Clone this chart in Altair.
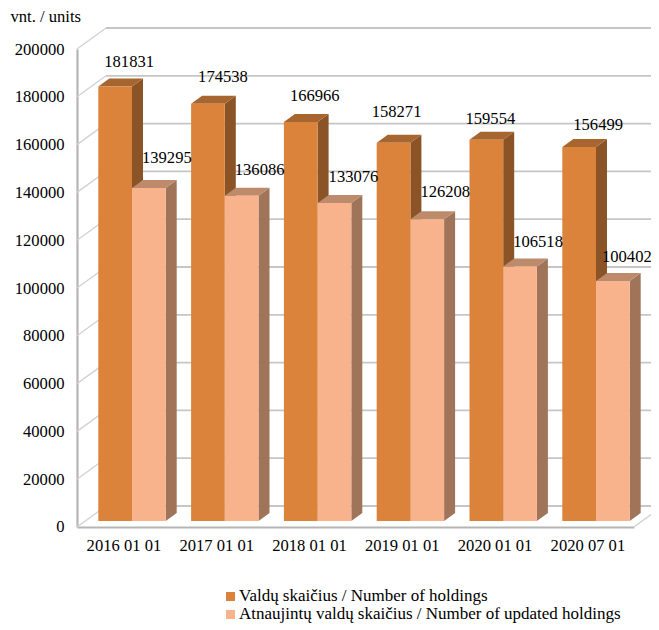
import altair as alt
import pandas as pd

categories = ["2016 01 01", "2017 01 01", "2018 01 01", "2019 01 01", "2020 01 01", "2020 07 01"]
holdings = [181831, 174538, 166966, 158271, 159554, 156499]
updated = [139295, 136086, 133076, 126208, 106518, 100402]
series_names = ["Valdų skaičius / Number of holdings", "Atnaujintų valdų skaičius / Number of updated holdings"]
grid_values = list(range(0, 200001, 20000))

FONT = "Liberation Serif"
FS = 16.6
W, H = 556.8, 478
PXX = W / 6
PXY = H / 200000
ux = lambda p: p / PXX
uy = lambda p: p / PXY

# layout
BAR_LEFT, BAR_W = ux(21.3), ux(33.7)
DX, DY = ux(11), uy(8)
BASE = uy(6)
WALL_X, WALL_Y = ux(29), uy(21)
RIGHT_END = ux(590)

front_cols = ["#DB833B", "#F9B38C"]
side_cols = ["#8A5427", "#9F7459"]
top_cols = ["#A7652F", "#BD8A6C"]

# per-label nudges from the default position above the bar (px)
nudge_x = [[14, 15, 14, 3, 4, 19], [18, 18, 19, 18, 18, 14]]
nudge_y = [[24, 27, 26, 31, 21, 22], [30, 26, 26, 27, 24, 24]]

x_scale = alt.Scale(domain=[0, 6], nice=False, zero=False)
y_scale = alt.Scale(domain=[0, 200000], nice=False, zero=False)

labels_js = "[" + ",".join(f"'{c}'" for c in categories) + "]"
x_axis = alt.Axis(
    title=None, values=[0.5 + i for i in range(6)], labelExpr=f"{labels_js}[floor(datum.value)]",
    grid=False, ticks=False, domainColor="#B5B5B5", domainWidth=2.2, labelFont=FONT, labelFontSize=FS,
    labelColor="#000000", labelPadding=11, labelAngle=0, labelOverlap=False, labelFlush=False)
y_axis = alt.Axis(
    title="vnt. / units", titleFont=FONT, titleFontSize=FS, titleFontWeight="normal", titleColor="#000000",
    titleAngle=0, titleAlign="left", titleBaseline="middle", titleX=-67, titleY=-33, format="d",
    values=grid_values, grid=False, ticks=False, domainColor="#B5B5B5", domainWidth=2.2,
    labelFont=FONT, labelFontSize=FS, labelColor="#000000", labelPadding=13, labelOverlap=False)
X = alt.X("x:Q", scale=x_scale, axis=x_axis)
Y = alt.Y("y:Q", scale=y_scale, axis=y_axis)

# walls
rows = []
for v in grid_values:
    rows.append(dict(g=f"d{v}", x=0, y=v, kind="side"))
    rows.append(dict(g=f"d{v}", x=WALL_X, y=v + WALL_Y, kind="side"))
    rows.append(dict(g=f"b{v}", x=WALL_X, y=v + WALL_Y, kind="back"))
    rows.append(dict(g=f"b{v}", x=RIGHT_END, y=v + WALL_Y, kind="back"))
rows.append(dict(g="floor", x=6, y=0, kind="side"))
rows.append(dict(g="floor", x=6 + WALL_X, y=WALL_Y, kind="side"))
walls = pd.DataFrame(rows)
back = alt.Chart(walls[walls.kind == "back"]).mark_line(color="#C6C6C6", strokeWidth=1.8, clip=False).encode(x=X, y=Y, detail="g:N")
diag = alt.Chart(walls[walls.kind == "side"]).mark_line(color="#D2D2D2", strokeWidth=1.4, clip=False).encode(x=X, y=Y, detail="g:N")

layers = [back, diag]
for k, vals in enumerate([holdings, updated]):
    side, top, front = [], [], []
    for i, v in enumerate(vals):
        x1 = i + BAR_LEFT + k * BAR_W
        x2 = x1 + BAR_W
        t = BASE + v
        front += [dict(g=i, x=x1, y=BASE, y2=t, series=series_names[k]),
                  dict(g=i, x=x2, y=BASE, y2=t, series=series_names[k])]
        side += [dict(g=i, x=x2, y=BASE, y2=t), dict(g=i, x=x2 + DX, y=BASE + DY, y2=t + DY)]
        top += [dict(g=i, x=x1, y=t, y2=t), dict(g=i, x=x1 + DX, y=t, y2=t + DY),
                dict(g=i, x=x2, y=t, y2=t + DY), dict(g=i, x=x2 + DX, y=t + DY, y2=t + DY)]
    layers.append(alt.Chart(pd.DataFrame(side)).mark_area(color=side_cols[k], clip=False).encode(x=X, y=Y, y2="y2:Q", detail="g:N"))
    layers.append(alt.Chart(pd.DataFrame(top)).mark_area(color=top_cols[k], clip=False).encode(x=X, y=Y, y2="y2:Q", detail="g:N"))
    layers.append(alt.Chart(pd.DataFrame(front)).mark_area(clip=False).encode(
        x=X, y=Y, y2="y2:Q", detail="g:N",
        color=alt.Color("series:N", scale=alt.Scale(domain=series_names, range=front_cols), legend=alt.Legend(
            title=None, orient="none", legendX=145, legendY=539, symbolType="square", symbolSize=81,
            symbolStrokeWidth=0, labelFont=FONT, labelFontSize=17, labelColor="#000000", labelLimit=0,
            labelOffset=0, rowPadding=0, values=series_names)),
    ))

lab = []
for k, vals in enumerate([holdings, updated]):
    for i, v in enumerate(vals):
        cx = i + BAR_LEFT + (k + 0.5) * BAR_W
        lab.append(dict(x=cx + ux(nudge_x[k][i]), y=BASE + v + uy(nudge_y[k][i]), t=str(v)))
layers.append(alt.Chart(pd.DataFrame(lab)).mark_text(font=FONT, fontSize=FS, color="#000000", clip=False).encode(x=X, y=Y, text="t:N"))

chart = alt.layer(*layers).properties(
    width=W, height=H, padding={"left": 69, "top": 41, "right": 17, "bottom": 96},
    autosize=alt.AutoSizeParams(type="none"), background="white",
).configure_view(stroke=None)

chart.save("out.html", embed_options={"renderer": "svg", "actions": False})
